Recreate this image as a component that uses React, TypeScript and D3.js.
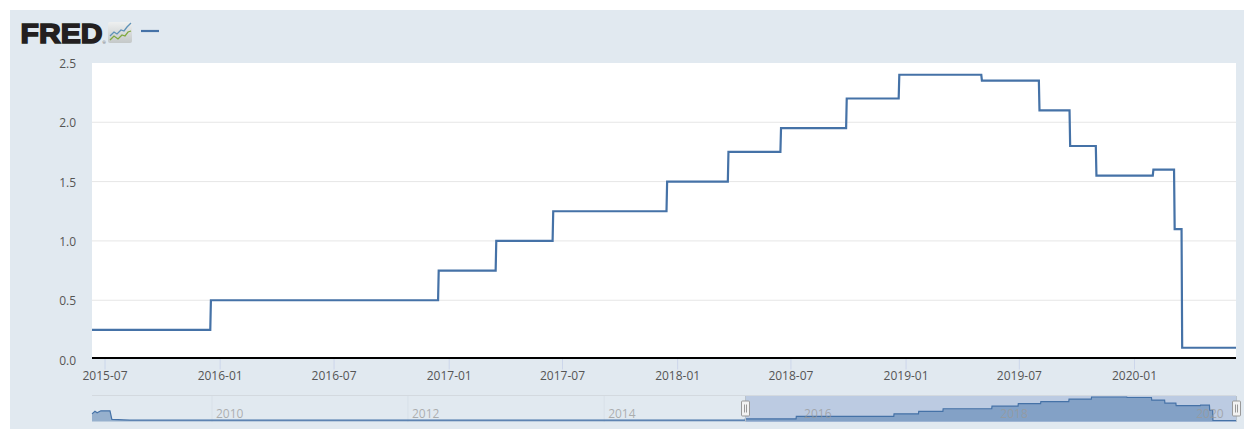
import * as d3 from "d3";
import { useEffect, useRef } from "react";

// rate changes
const changeDates = [
  "2015-06-11", "2015-12-18", "2016-12-16", "2017-03-18", "2017-06-17", "2017-12-16",
  "2018-03-24", "2018-06-16", "2018-09-29", "2018-12-22", "2019-05-03", "2019-08-03",
  "2019-09-21", "2019-11-02", "2020-02-01", "2020-03-06", "2020-03-18",
];
const rates = [0.25, 0.5, 0.75, 1.0, 1.25, 1.5, 1.75, 1.95, 2.2, 2.4, 2.35, 2.1, 1.8, 1.55, 1.6, 1.1, 0.1];

// the older part only shows in the navigator
const historyDates = ["2008-10-11", "2008-10-22", "2008-10-30", "2008-11-13", "2008-12-17", "2008-12-24", "2009-03-01"];
const historyRates = [0.75, 1.0, 0.85, 1.05, 1.05, 0.2, 0.13];

const mainTicks = ["2015-07", "2016-01", "2016-07", "2017-01", "2017-07", "2018-01", "2018-07", "2019-01", "2019-07", "2020-01"];
const yTicks = [0, 0.5, 1, 1.5, 2, 2.5];
const navYears = ["2010", "2012", "2014", "2016", "2018", "2020"];
const mainStart = "2015-06-11";
const mainEnd = "2020-06-12";
const navStart = "2008-10-11";

const parse = d3.utcParse("%Y-%m-%d");
const parseMonth = d3.utcParse("%Y-%m");
const parseYear = d3.utcParse("%Y");

export default function App() {
  const ref = useRef<SVGSVGElement | null>(null);

  useEffect(() => {
    const width = 1244;
    const height = 429;
    const left = 92;
    const right = 1236;
    const font = "'Open Sans', sans-serif";
    const blue = "#4572a7";

    const svg = d3.select(ref.current);
    svg.selectAll("*").remove();

    // ---- background ----
    svg.append("rect").attr("x", 10).attr("y", 10).attr("width", width - 10).attr("height", height - 10).attr("fill", "#e1e9f0");
    svg.append("rect").attr("x", left).attr("y", 63).attr("width", right - left).attr("height", 295).attr("fill", "#fff");

    // ---- scales ----
    const x = d3.scaleUtc().domain([parse(mainStart)!, parse(mainEnd)!]).range([left, right]);
    const y = d3.scaleLinear().domain([0, 2.5]).range([359.6, 62.9]);
    const xNav = d3.scaleUtc().domain([parse(navStart)!, parse(mainEnd)!]).range([left, right]);
    const yNav = d3.scaleLinear().domain([0, 2.4]).range([421.5, 397]);

    // ---- grid and y axis ----
    const yAxis = svg.append("g")
      .attr("transform", `translate(${left},0.6)`)
      .call(d3.axisLeft(y).tickValues(yTicks).tickFormat(d3.format(".1f")).tickSize(0).tickPadding(16));
    yAxis.select(".domain").remove();
    yAxis.selectAll("text").attr("font-family", font).attr("font-size", 12).attr("fill", "#555");

    svg.append("g")
      .selectAll("line")
      .data(yTicks.slice(1, -1))
      .join("line")
      .attr("x1", left)
      .attr("x2", right)
      .attr("y1", (d) => y(d))
      .attr("y2", (d) => y(d))
      .attr("stroke", "#e6e6e6");

    // ---- x axis ----
    const xAxis = svg.append("g")
      .attr("transform", "translate(0,358.5)")
      .call(
        d3.axisBottom(x)
          .tickValues(mainTicks.map((m) => parseMonth(m)!))
          .tickFormat((d) => d3.utcFormat("%Y-%m")(d as Date))
          .tickSize(11)
          .tickPadding(2)
      );
    xAxis.select(".domain").remove();
    xAxis.selectAll("line").attr("stroke", "#ccd6eb");
    xAxis.selectAll("text").attr("font-family", font).attr("font-size", 12).attr("fill", "#555");

    // ---- main line ----
    // the values are daily, so each change takes one day to draw
    const points: [Date, number][] = [];
    changeDates.forEach((d, i) => {
      const date = parse(d)!;
      if (i > 0) points.push([d3.utcDay.offset(date, -1), rates[i - 1]]);
      points.push([date, rates[i]]);
    });
    points.push([parse(mainEnd)!, rates[rates.length - 1]]);

    const line = d3.line<[Date, number]>().x((d) => x(d[0])).y((d) => y(d[1]));
    svg.append("path").attr("d", line(points)).attr("fill", "none").attr("stroke", blue).attr("stroke-width", 2.2);

    svg.append("line")
      .attr("x1", left).attr("x2", right)
      .attr("y1", 358).attr("y2", 358)
      .attr("stroke", "#000").attr("stroke-width", 2);

    // ---- navigator ----
    const navPoints: [Date, number][] = [
      ...historyDates.map((d, i) => [parse(d)!, historyRates[i]] as [Date, number]),
      [parse("2015-06-11")!, 0.13],
      ...points,
    ];

    svg.append("line").attr("x1", left).attr("x2", right).attr("y1", 395.5).attr("y2", 395.5).attr("stroke", "#d3d9df");

    svg.append("g")
      .selectAll("line")
      .data(navYears)
      .join("line")
      .attr("x1", (d) => xNav(parseYear(d)!))
      .attr("x2", (d) => xNav(parseYear(d)!))
      .attr("y1", 396)
      .attr("y2", 422)
      .attr("stroke", "#d8e0e8");

    const selX = xNav(parse(mainStart)!);
    svg.append("rect")
      .attr("x", selX).attr("y", 396)
      .attr("width", right - selX).attr("height", 26)
      .attr("fill", "#bccbe2");

    const navArea = d3.area<[Date, number]>().x((d) => xNav(d[0])).y0(yNav(0)).y1((d) => yNav(d[1]));
    const navLine = d3.line<[Date, number]>().x((d) => xNav(d[0])).y((d) => yNav(d[1]));
    svg.append("path").attr("d", navArea(navPoints)).attr("fill", blue).attr("fill-opacity", 0.48);
    svg.append("path").attr("d", navLine(navPoints)).attr("fill", "none").attr("stroke", blue).attr("stroke-width", 1.2);

    svg.append("g")
      .selectAll("text")
      .data(navYears)
      .join("text")
      .attr("x", (d) => xNav(parseYear(d)!) + 4)
      .attr("y", 418)
      .attr("font-family", font)
      .attr("font-size", 12)
      .attr("fill", "#999")
      .attr("fill-opacity", 0.75)
      .text((d) => d);

    // handles at both ends of the selection
    const handle = svg.append("g").selectAll("g").data([selX, right]).join("g").attr("transform", (d) => `translate(${Math.round(d) + 0.5},0)`);
    handle.append("line").attr("y1", 396).attr("y2", 422).attr("stroke", "#b8c2cc");
    handle.append("rect")
      .attr("x", -4).attr("y", 401)
      .attr("width", 8).attr("height", 15).attr("rx", 1)
      .attr("fill", "#f2f2f2").attr("stroke", "#999");
    handle.selectAll(".grip").data([-1, 1]).join("line")
      .attr("x1", (d) => d).attr("x2", (d) => d)
      .attr("y1", 404.5).attr("y2", 412.5)
      .attr("stroke", "#999");

    // ---- logo and legend ----
    svg.append("text")
      .attr("x", 20.5).attr("y", 42.6)
      .attr("font-family", "'Liberation Sans', sans-serif")
      .attr("font-weight", 700)
      .attr("font-size", 28.5)
      .attr("textLength", 82)
      .attr("lengthAdjust", "spacingAndGlyphs")
      .attr("fill", "#231f20")
      .attr("stroke", "#231f20")
      .attr("stroke-width", 1.6)
      .text("FRED");
    svg.append("text")
      .attr("x", 102.5).attr("y", 44)
      .attr("font-family", font).attr("font-size", 4).attr("fill", "#555")
      .text("®");

    const icon = svg.append("g").attr("transform", "translate(108,22)");
    const grad = svg.append("defs").append("linearGradient").attr("id", "iconBg").attr("x1", 0).attr("x2", 0).attr("y1", 0).attr("y2", 1);
    grad.append("stop").attr("offset", 0).attr("stop-color", "#eef0f0");
    grad.append("stop").attr("offset", 1).attr("stop-color", "#c4c8c8");
    icon.append("rect").attr("width", 24).attr("height", 21).attr("rx", 2).attr("fill", "url(#iconBg)");
    icon.append("polyline").attr("points", "2,14 6,10 9,12 13,8 16,9 19,5 23,1").attr("fill", "none").attr("stroke", "#5f93b8").attr("stroke-width", 1.3);
    icon.append("polyline").attr("points", "2,18 6,14 10,17 14,13 17,14 20,10 23,9").attr("fill", "none").attr("stroke", "#7fa83f").attr("stroke-width", 1.3);

    svg.append("line")
      .attr("x1", 141).attr("x2", 159)
      .attr("y1", 31).attr("y2", 31)
      .attr("stroke", blue).attr("stroke-width", 2.2);
  }, []);

  return (
    <svg
      ref={ref}
      width={1244}
      height={429}
      style={{ position: "absolute", left: 0, top: 0, display: "block" }}
    />
  );
}
